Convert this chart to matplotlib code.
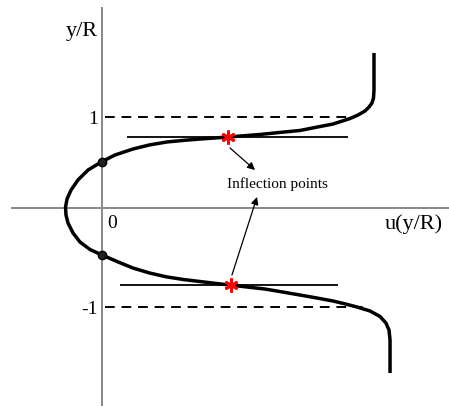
'''Sketch of a velocity profile u(y/R) with its two inflection points.'''

import numpy as np
from matplotlib import pyplot as plt

plt.rcParams['font.family'] = ['Liberation Serif', 'DejaVu Serif']

# Profile curve (u, y/R), top end to bottom end
curve_u = [2.863, 2.863, 2.858, 2.842, 2.811, 2.768, 2.695, 2.611, 2.432, 2.26,
           2.084, 1.87, 1.663, 1.326, 1.032, 0.86, 0.684, 0.5, 0.326, 0.137,
           0.0, -0.147, -0.253, -0.326, -0.368, -0.384, -0.379, -0.358, -0.305, -0.232,
           -0.126, 0.0, 0.158, 0.326, 0.5, 0.684, 0.86, 1.032, 1.19, 1.347,
           1.716, 1.9, 2.084, 2.26, 2.432, 2.56, 2.684, 2.821, 2.926, 2.989,
           3.021, 3.032, 3.032]
curve_y = [1.632, 1.242, 1.158, 1.105, 1.063, 1.021, 0.979, 0.942, 0.884, 0.851,
           0.816, 0.795, 0.774, 0.747, 0.726, 0.712, 0.695, 0.664, 0.621, 0.558,
           0.489, 0.400, 0.295, 0.189, 0.095, 0.011, -0.074, -0.158, -0.263, -0.358,
           -0.437, -0.495, -0.563, -0.632, -0.684, -0.726, -0.753, -0.774, -0.793, -0.811,
           -0.853, -0.884, -0.916, -0.947, -0.979, -1.01, -1.042, -1.084, -1.142, -1.211,
           -1.284, -1.389, -1.737]

# Inflection points and their horizontal tangents
infl_u = [1.329, 1.355]
infl_y = [0.747, -0.811]
tan_start = [0.26, 0.189]
tan_end = [2.589, 2.484]

# Crossings of the u = 0 axis
cross_y = [0.489, -0.495]

# Dashed levels y/R = +-1
level_y = [0.955, -1.045]
level_end = [2.61, 2.747]
level_labels = ['1', '-1']

# Arrows from the label to the inflection points
arrow_from = [(1.347, 0.632), (1.368, -0.705)]
arrow_to = [(1.611, 0.400), (1.632, 0.116)]


fig = plt.figure(figsize=(4.49, 4.07), dpi=100)
ax = fig.add_axes([0, 0, 1, 1])
ax.set_xlim(-102/95, 347/95)
ax.set_ylim(-199/95, 208/95)
ax.axis('off')

# coordinate axes
ax.vlines(0, -2.084, 2.116, color='#888888', lw=1.4, zorder=1)
ax.hlines(0, -0.958, 3.7, color='#888888', lw=1.4, zorder=1)

# dashed levels
for yl, xe, lab in zip(level_y, level_end, level_labels):
    ax.hlines(yl, 0.03, xe, color='k', lw=1.4, linestyles=(0, (5, 3.5)), zorder=2)
    ax.text(-0.045, yl, lab, ha='right', va='center_baseline', fontsize=14)

# tangents at inflection points
for yi, x0, x1 in zip(infl_y, tan_start, tan_end):
    ax.hlines(yi, x0, x1, color='k', lw=1.3, zorder=2)

ax.plot(curve_u, curve_y, color='k', lw=2.5, solid_capstyle='butt',
        solid_joinstyle='round', zorder=3)
ax.plot(np.zeros(len(cross_y)), cross_y, 'o', color='k', ms=6, mfc='#222222', zorder=4)
ax.plot(infl_u, infl_y, ls='none', marker=(6, 2, 0), color='red', ms=10, mew=2, zorder=5)

for p0, p1 in zip(arrow_from, arrow_to):
    ax.annotate('', xy=p1, xytext=p0,
                arrowprops=dict(arrowstyle='-|>', color='k', lw=0.9,
                                mutation_scale=11, shrinkA=0, shrinkB=0))

ax.text(1.847, 0.253, 'Inflection points', ha='center', va='center', fontsize=11)
ax.text(-0.042, 1.863, 'y/R', ha='right', va='center', fontsize=16)
ax.text(0.053, -0.142, '0', ha='left', va='center_baseline', fontsize=14)
ax.text(2.979, -0.168, 'u(y/R)', ha='left', va='center', fontsize=16)

fig.savefig('out.png', dpi=100)
